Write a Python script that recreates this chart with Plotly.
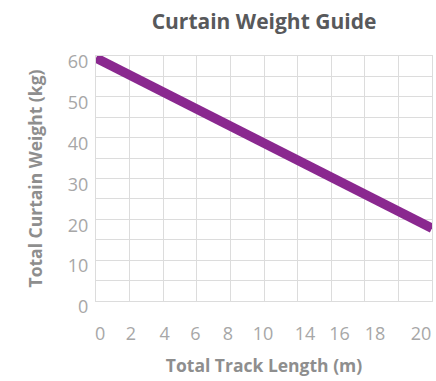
import plotly.graph_objects as go

# data
track_length = [0, 20]          # m
curtain_weight = [59.5, 17.8]   # kg

# tick labels as printed (the printed x labels skip 12 and drift off the grid)
x_tick_text = ["0", "2", "4", "6", "8", "10", "14", "16", "18", "20"]
x_tick_pos = [0.24, 2.08, 4.08, 5.91, 7.85, 9.94, 12.44, 14.49, 16.61, 19.35]
y_tick_vals = [0, 10, 20, 30, 40, 50, 60]

GRID = "#dcdcdc"
TICK_FONT = dict(family="Open Sans", size=18, color="#a7a7a7")
AXIS_TITLE_FONT = dict(family="Open Sans", size=17.5, color="#8e8e8e", weight="bold")

fig = go.Figure()
fig.add_trace(go.Scatter(
    x=track_length, y=curtain_weight, mode="lines",
    line=dict(color="#8a288f", width=9.5),
    hoverinfo="skip", showlegend=False,
))
# invisible copy on the label axis so it gets drawn
fig.add_trace(go.Scatter(
    x=track_length, y=curtain_weight, mode="lines", xaxis="x2",
    line=dict(width=0), opacity=0, hoverinfo="skip", showlegend=False,
))

fig.update_layout(
    width=436, height=381,
    margin=dict(l=96, r=4, t=56, b=80),
    paper_bgcolor="white", plot_bgcolor="white",
    title=dict(
        text="Curtain Weight Guide", x=0.5, xref="paper", xanchor="center",
        y=1 - 22 / 381, yref="container", yanchor="middle",
        font=dict(family="Open Sans", size=21, color="#58595b", weight="bold"),
    ),
    xaxis=dict(
        range=[0, 20], dtick=2, showgrid=True, gridcolor=GRID, gridwidth=1,
        zeroline=False, showticklabels=False, ticks="",
        showline=True, linecolor=GRID, mirror=True,
    ),
    xaxis2=dict(
        range=[0, 20], overlaying="x", anchor="y", side="bottom",
        tickmode="array", tickvals=x_tick_pos, ticktext=x_tick_text,
        showgrid=False, zeroline=False, showline=False,
        ticks="outside", ticklen=16, tickcolor="rgba(0,0,0,0)",
        tickfont=TICK_FONT,
        title=dict(text="Total Track Length (m)", font=AXIS_TITLE_FONT, standoff=16),
    ),
    yaxis=dict(
        range=[0, 60], tickmode="array", tickvals=y_tick_vals,
        showgrid=True, gridcolor=GRID, gridwidth=1,
        minor=dict(dtick=5, showgrid=True, gridcolor=GRID, gridwidth=1),
        zeroline=False, ticks="outside", ticklen=3, tickcolor="rgba(0,0,0,0)",
        tickfont=TICK_FONT, ticklabelshift=6,
        showline=True, linecolor=GRID, mirror=True,
        title=dict(text="Total Curtain Weight (kg)", font=AXIS_TITLE_FONT, standoff=20),
    ),
)

# drop the browser's default 8px body margin so the figure sits at (0, 0)
fig.write_html(
    "out.html",
    config={"displayModeBar": False},
    post_script="document.body.style.margin='0';",
)
